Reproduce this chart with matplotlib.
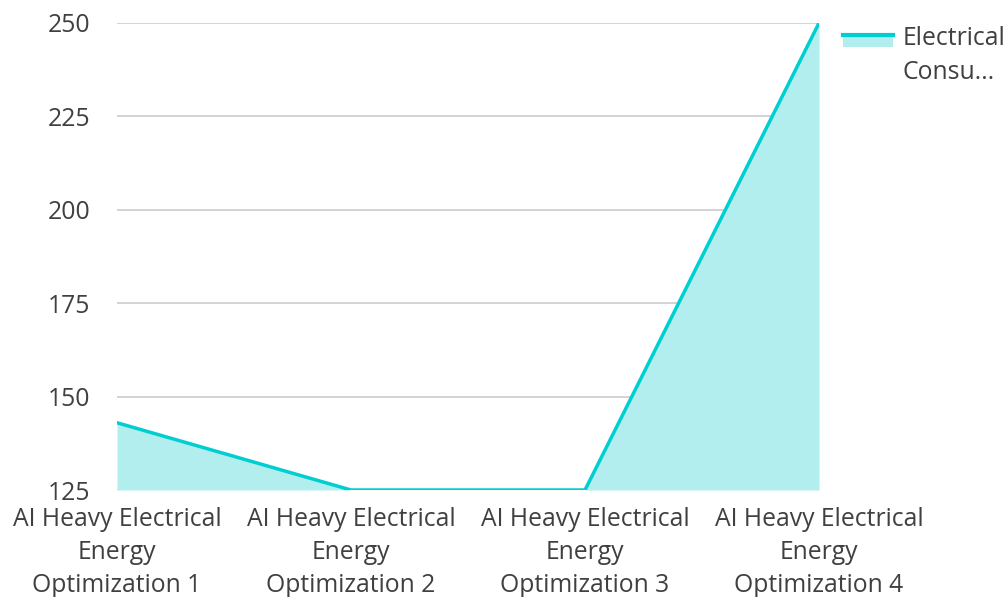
import matplotlib.pyplot as plt
from matplotlib.lines import Line2D
from matplotlib.patches import Rectangle

plt.rcParams['font.family'] = ['Open Sans', 'DejaVu Sans']

categories = ['AI Heavy Electrical\nEnergy\nOptimization 1',
              'AI Heavy Electrical\nEnergy\nOptimization 2',
              'AI Heavy Electrical\nEnergy\nOptimization 3',
              'AI Heavy Electrical\nEnergy\nOptimization 4']
values = [143, 125, 125, 250]
series_name = 'Electrical\nConsu...'
yticks = [125, 150, 175, 200, 225, 250]

line_color = '#00CED1'
fill_color = '#B2EEEE'
text_color = '#404040'
fs = 17.8

W, H = 1008, 597
fig = plt.figure(figsize=(W / 100, H / 100), dpi=100)
ax = fig.add_axes([117 / W, 1 - 490 / H, (819 - 117) / W, (490 - 23) / H])

x = list(range(len(values)))
ax.fill_between(x, values, 125, color=fill_color, linewidth=0, zorder=2)
ax.plot(x, values, color=line_color, linewidth=2.5, zorder=3)

ax.set_xlim(0, len(values) - 1)
ax.set_ylim(125, 250)
ax.set_yticks(yticks)
ax.set_xticks(x)
ax.set_xticklabels(categories, fontsize=fs, color=text_color, linespacing=1.42)
ax.tick_params(axis='y', labelsize=fs, labelcolor=text_color, length=0, pad=19)
ax.tick_params(axis='x', length=0, pad=12)
ax.grid(axis='y', color='#cccccc', linewidth=1.2, zorder=1)
for s in ax.spines.values():
    s.set_visible(False)

# legend drawn by hand: filled box with the line on its top edge
fig.add_artist(Rectangle((843 / W, 1 - 47 / H), 50 / W, 12 / H,
                         transform=fig.transFigure, facecolor=fill_color, edgecolor='none'))
fig.add_artist(Line2D([843 / W, 893 / W], [1 - 35 / H, 1 - 35 / H],
                      transform=fig.transFigure, color=line_color, linewidth=3))
fig.text(903 / W, 1 - 26 / H, series_name, fontsize=fs, color=text_color,
         va='top', ha='left', linespacing=1.45)

fig.savefig('out.png', dpi=100)
